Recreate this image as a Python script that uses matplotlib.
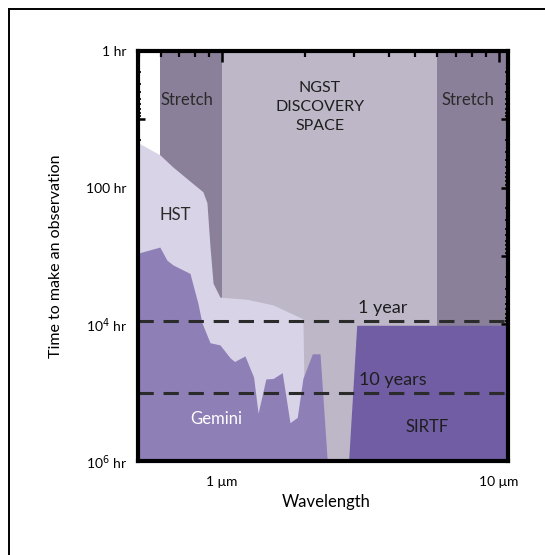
import numpy as np
import matplotlib
matplotlib.use("Agg")
import matplotlib.pyplot as plt
from matplotlib.lines import Line2D
from matplotlib.ticker import LogLocator, NullFormatter, FixedLocator

plt.rcParams['font.family'] = ['Lato', 'DejaVu Sans']

# wavelength limits (micron) and time limits (hr)
x_lim = (0.497, 10.8)
y_lim = (1e6, 1.0)

# band edges (micron)
stretch_left = (0.596, 1.0)
ngst_space = (1.0, 5.96)
stretch_right = (5.96, 10.8)

# HST sensitivity envelope (wavelength, hours)
hst_wl = [0.497, 0.596, 0.665, 0.853, 0.882, 0.905, 0.928, 0.983, 1.23, 1.53, 1.96, 2.0]
hst_hr = [22, 33, 50, 115, 166, 740, 2500, 4000, 4300, 5200, 8300, 1e6]

# Gemini sensitivity envelope
gem_wl = [0.497, 0.596, 0.632, 0.665, 0.766, 0.818, 0.846, 0.905, 0.983, 1.07, 1.11,
          1.21, 1.30, 1.35, 1.44, 1.53, 1.65, 1.76, 1.87, 1.96, 2.12, 2.26, 2.40]
gem_hr = [910, 740, 1150, 1350, 1800, 4900, 9500, 18600, 20000, 31000, 35000,
          29000, 59000, 200000, 63000, 62000, 51000, 275000, 230000, 62000, 27000, 27000, 1e6]

# SIRTF block
sirtf_wl = [2.88, 3.08, 10.8, 10.8]
sirtf_hr = [1e6, 1.05e4, 1.05e4, 1e6]

one_year = 9.0e3
ten_years = 1.0e5

y_ticks = [1, 10, 100, 1e3, 1e4, 1e5, 1e6]
y_labels = ['1 hr', '', '100 hr', '', '10$^4$ hr', '', '10$^6$ hr']
x_ticks = [1, 10]
x_labels = ['1 \u03bcm', '10 \u03bcm']

c_stretch = '#8a8099'
c_ngst = '#bdb7c7'
c_hst = '#d8d3e7'
c_gem = '#8e7fb7'
c_sirtf = '#705da3'
c_text = '#2a2a2a'

fig = plt.figure(figsize=(5.45, 5.55), dpi=100)
ax = fig.add_axes([138 / 545, 1 - 461 / 555, 370 / 545, 410 / 555])
ax.set_xscale('log')
ax.set_yscale('log')
ax.set_xlim(*x_lim)
ax.set_ylim(*y_lim)

ax.axvspan(*stretch_left, color=c_stretch, lw=0, zorder=1)
ax.axvspan(*ngst_space, color=c_ngst, lw=0, zorder=1)
ax.axvspan(*stretch_right, color=c_stretch, lw=0, zorder=1)

ax.fill_between(hst_wl, hst_hr, 1e6, color=c_hst, lw=0, zorder=2)
ax.fill_between(gem_wl, gem_hr, 1e6, color=c_gem, lw=0, zorder=3)
ax.fill(sirtf_wl, sirtf_hr, color=c_sirtf, lw=0, zorder=3)

for val in (one_year, ten_years):
    ax.axhline(val, color='#2b2b2b', lw=2.2, dashes=(5, 3.2), zorder=4)

ax.text(0.748, 5.2, 'Stretch', fontsize=12, color=c_text, ha='center', va='center', zorder=5)
ax.text(7.73, 5.2, 'Stretch', fontsize=12, color=c_text, ha='center', va='center', zorder=5)
ax.text(2.26, 6.6, 'NGST\nDISCOVERY\nSPACE', fontsize=11.5, color='#1e1e1e',
        ha='center', va='center', linespacing=1.45, zorder=5)
ax.text(0.676, 251, 'HST', fontsize=12, color=c_text, ha='center', va='center', zorder=5)
ax.text(3.81, 5750, '1 year', fontsize=13, color='#1e1e1e', ha='center', va='center', zorder=5)
ax.text(4.14, 65000, '10 years', fontsize=13, color='#1e1e1e', ha='center', va='center', zorder=5)
ax.text(0.95, 2.4e5, 'Gemini', fontsize=12, color='white', ha='center', va='center', zorder=5)
ax.text(5.5, 3.2e5, 'SIRTF', fontsize=12, color='#1e1e1e', ha='center', va='center', zorder=5)

ax.yaxis.set_major_locator(FixedLocator(y_ticks))
ax.set_yticklabels(y_labels)
ax.yaxis.set_minor_locator(LogLocator(base=10, subs=np.arange(2, 10), numticks=20))
ax.yaxis.set_minor_formatter(NullFormatter())
ax.xaxis.set_major_locator(FixedLocator(x_ticks))
ax.set_xticklabels(x_labels)
ax.xaxis.set_minor_locator(LogLocator(base=10, subs=np.arange(2, 10), numticks=20))
ax.xaxis.set_minor_formatter(NullFormatter())

ax.tick_params(which='both', direction='in', top=True, right=True, color='black', zorder=6)
ax.tick_params(which='major', length=8, width=1.8, labelsize=10, pad=8)
ax.tick_params(axis='x', which='major', pad=11)
ax.tick_params(axis='y', which='major', length=5)
ax.tick_params(axis='x', which='minor', length=4, width=1.6)
ax.tick_params(axis='y', which='minor', length=2.5, width=1.2)
for sp in ax.spines.values():
    sp.set_linewidth(3)
    sp.set_zorder(7)

ax.set_ylabel('Time to make an observation', fontsize=11.5)
ax.yaxis.set_label_coords(-0.203, 0.5)
ax.set_xlabel('Wavelength', fontsize=12)
ax.xaxis.set_label_coords(0.508, -0.08)

# partial page border, top and left
fig.add_artist(Line2D([9 / 545, 1], [1 - 8.5 / 555, 1 - 8.5 / 555], color='black', lw=1.4,
                      transform=fig.transFigure))
fig.add_artist(Line2D([9 / 545, 9 / 545], [0, 1 - 8.5 / 555], color='black', lw=1.4,
                      transform=fig.transFigure))

fig.savefig('out.png', dpi=100)
